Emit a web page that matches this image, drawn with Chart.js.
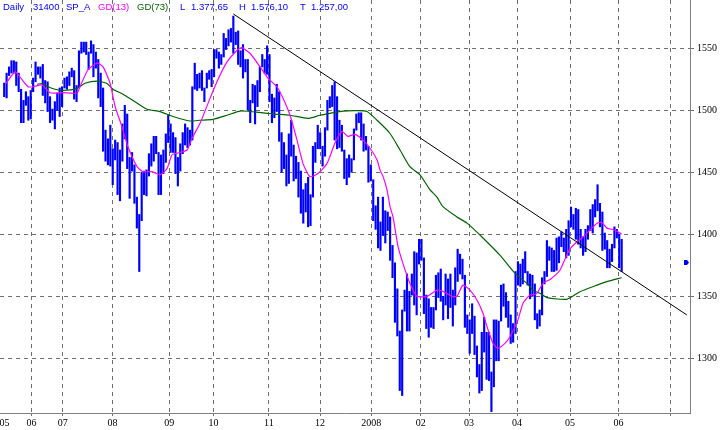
<!DOCTYPE html>
<html><head><meta charset="utf-8">
<script src="https://cdn.jsdelivr.net/npm/chart.js@4.4.1/dist/chart.umd.min.js"></script>
<style>html,body{margin:0;padding:0;background:#fff;overflow:hidden}#wrap{width:721px;height:430px;position:relative}</style>
</head><body><div id="wrap"><canvas id="c" width="721" height="430"></canvas></div>
<script>
// Daily S&P 500 bars, trading day index 0 = 29 May 2007 ... 256 = 3 Jun 2008
const dayLows = [
1511,1510,1528,1530,1530,1520,1515,1490,1490,1504,1492,1493,1515,1523,1529,1526,1512,1506,1499,1490,
1492,1485,1500,1495,1503,1518,1517,1520,1527,1509,1507,1518,1546,1547,1545,1533,1546,1527,1534,1510,
1503,1467,1459,1456,1455,1440,1460,1432,1427,1459,1477,1453,1429,1451,1425,1405,1370,1411,1432,1431,
1447,1455,1459,1465,1432,1432,1449,1458,1474,1466,1466,1449,1439,1451,1465,1472,1470,1472,1476,1517,
1516,1518,1516,1507,1518,1525,1519,1527,1542,1534,1537,1543,1549,1552,1555,1546,1553,1537,1535,1526,
1531,1500,1490,1506,1489,1503,1515,1535,1530,1529,1507,1490,1494,1499,1475,1450,1453,1439,1441,1463,
1443,1445,1430,1417,1409,1418,1406,1407,1430,1458,1469,1469,1455,1463,1484,1502,1503,1476,1469,1470,
1467,1445,1440,1446,1450,1460,1484,1490,1476,1467,1468,1442,1443,1411,1404,1389,1387,1399,1393,1403,
1379,1365,1329,1318,1274,1270,1338,1322,1322,1351,1343,1335,1376,1379,1336,1324,1317,1325,1324,1339,
1349,1346,1331,1343,1332,1341,1326,1343,1362,1368,1364,1325,1320,1304,1320,1303,1285,1272,1274,1305,
1283,1282,1257,1277,1298,1298,1330,1342,1333,1325,1312,1313,1320,1359,1358,1360,1369,1359,1348,1350,
1331,1324,1326,1335,1360,1366,1379,1370,1370,1371,1377,1390,1386,1381,1383,1406,1404,1396,1392,1389,
1383,1386,1396,1403,1401,1414,1419,1406,1387,1388,1373,1373,1378,1389,1397,1373,1370
];
const dayHighs = [
1522,1530,1535,1540,1540,1539,1530,1517,1508,1515,1511,1516,1526,1539,1535,1535,1537,1524,1523,1511,
1501,1507,1514,1518,1519,1526,1527,1531,1534,1532,1520,1548,1555,1555,1555,1547,1556,1553,1547,1541,
1530,1518,1484,1477,1488,1469,1476,1474,1468,1489,1504,1497,1462,1466,1456,1430,1416,1450,1451,1452,
1465,1473,1479,1479,1466,1464,1468,1481,1496,1489,1482,1478,1462,1473,1482,1489,1486,1484,1519,1538,
1529,1530,1532,1518,1530,1532,1533,1549,1549,1547,1545,1562,1558,1565,1566,1576,1563,1564,1548,1553,
1541,1541,1508,1521,1520,1524,1535,1545,1541,1552,1545,1513,1510,1521,1515,1482,1474,1464,1481,1492,
1472,1463,1458,1451,1436,1441,1446,1432,1471,1474,1488,1482,1471,1486,1508,1511,1520,1523,1511,1492,
1488,1468,1461,1464,1461,1485,1497,1498,1498,1489,1479,1471,1456,1444,1423,1430,1410,1430,1419,1418,
1414,1391,1377,1356,1322,1339,1355,1368,1354,1368,1386,1385,1396,1396,1381,1351,1348,1341,1341,1367,
1369,1372,1350,1368,1364,1368,1355,1373,1388,1384,1380,1367,1335,1331,1344,1334,1310,1295,1321,1333,
1321,1321,1289,1331,1331,1330,1359,1360,1353,1346,1335,1328,1370,1378,1376,1380,1386,1370,1368,1367,
1360,1336,1339,1365,1370,1395,1390,1389,1387,1397,1398,1402,1397,1404,1411,1422,1416,1421,1420,1404,
1398,1404,1407,1420,1424,1428,1440,1425,1418,1401,1395,1388,1392,1406,1404,1400,1396
];
// GD(13) moving average
const ma13Days = [0.7,4.5,6.5,9.9,11.9,15.7,19,24.4,30.2,31.4,34.7,38.5,41,43.9,46,48.8,51.3,55.1,57.5,61.3,64.6,67.5,69.6,72.9,75.8,77.9,81.2,84.5,88.2,92.4,96.9,98.5,101.9,106.1,109.4,113.1,115.6,118.5,121.4,123.9,126.8,130.1,133.8,137.1,140,142.5,145.4,148.8,151.7,154.6,155.8,157.1,158.7,160,161.2,163.3,165.3,168.2,171.1,175.3,179.4,181.9,185.7,187.7,190.2,193.1,196,198.5,200.6,202.7,204.7,207.6,209.7,213,215.1,218,220.7,223.4,226.6,230.4,232.5,234.5,237.5,240.1,242.9,245.8,247.8,249.9,253,255.3,256];
const ma13Values = [1521.7,1531,1527,1519,1519,1520.4,1514.2,1514.2,1514,1519,1532.5,1538,1535,1521.8,1503,1487,1470.6,1454.5,1450.5,1450.5,1448,1453,1464,1466,1468,1477.4,1489.5,1505.6,1523,1539,1549,1550.5,1546,1535,1525.8,1519,1509.7,1496,1476,1457,1446.5,1449,1457,1473.4,1483,1479,1480.6,1476,1469.4,1460,1452,1446.5,1436,1422,1414,1390,1376.6,1360.5,1350,1350,1355,1354,1350,1350,1359,1355,1347,1336.3,1323,1312,1308,1312,1317.4,1331,1344.4,1351,1352,1360.5,1364,1371,1380,1388,1394,1398,1403.5,1409,1409.5,1405,1403.5,1401,1400];
// GD(73) moving average
const ma73Days = [13.6,15.7,18.2,21.1,24.4,30.2,33.5,38.5,42.6,45.1,49.3,53.4,59.2,64.6,70,77,81.2,86.6,92.4,97.8,107.3,112.3,118.5,125.9,130.9,135.1,140.5,146.3,150.4,154.6,159.9,164.1,168.2,172.4,176.5,179.4,181.9,187.7,191.9,198.5,205.6,211.8,216.7,219.2,222.1,225,233.3,238.7,245.8,249.9,256];
const ma73Values = [1521,1521.6,1519,1517,1516,1517.7,1521.8,1523.6,1521.6,1517,1513,1508,1500.8,1499,1495,1491.4,1492,1492.7,1496,1499.4,1498,1497,1496,1493.5,1496,1497.6,1499.4,1499.7,1499,1492,1481.5,1468,1454.5,1448,1436,1430,1422.3,1414,1409,1397,1383,1368.5,1360.5,1355,1352.4,1349,1347.6,1353.7,1359,1361.8,1365];
// Trendline from the October 2007 high
const trendDays = [95, 283];
const trendValues = [1577.7, 1335];
// Axis ticks
const monthTickDays = [0.1,11.28,24.25,44.9,68.45,86.8,109.74,130.97,152.2,172.68,192.74,212.65,234.6,254.68,276.1];
const monthTickLabels = ['05','06','07','08','09','10','11','12','2008','02','03','04','05','06',''];
const priceTicks = [1300,1350,1400,1450,1500,1550];
const lastClose = 1377.65;
const headerTexts = ['Daily','31400','SP_A','GD(13)','GD(73)','L','1.377,65','H','1.576,10','T','1.257,00'];

const barData = dayLows.map((lo, i) => ({x: i, y: [lo, dayHighs[i]]}));
const pts = (xs, ys) => xs.map((x, i) => ({x: x, y: ys[i]}));

const GRID = '#6e6e6e';
const overlay = {
  id: 'overlay',
  afterDraw(chart) {
    const ctx = chart.ctx;
    ctx.save();
    ctx.font = '9.5px "Liberation Sans", Arial, sans-serif';
    ctx.textBaseline = 'alphabetic';
    const xs = [3, 33, 66, 98, 137, 180, 191, 239, 251, 300, 311];
    const cols = ['#0000ff','#0000ff','#0000ff','#ff00ff','#006400','#0000ff','#0000ff','#0000ff','#0000ff','#0000ff','#0000ff'];
    headerTexts.forEach((t, i) => { ctx.fillStyle = cols[i]; ctx.fillText(t, xs[i], 10); });
    const y = Math.round(chart.scales.y.getPixelForValue(lastClose));
    const r = chart.chartArea.right;
    ctx.fillStyle = '#0000ff';
    ctx.beginPath();
    ctx.moveTo(r - 6, y - 2); ctx.lineTo(r - 3, y - 2); ctx.lineTo(r - 1, y + 0.5);
    ctx.lineTo(r - 3, y + 3); ctx.lineTo(r - 6, y + 3); ctx.closePath(); ctx.fill();
    ctx.restore();
  }
};

new Chart(document.getElementById('c'), {
  type: 'bar',
  data: {
    datasets: [
      {type: 'line', data: pts(trendDays, trendValues), borderColor: '#000000', borderWidth: 1, pointRadius: 0, tension: 0, order: 1},
      {type: 'line', data: pts(ma13Days, ma13Values), borderColor: '#ff00ff', borderWidth: 1.2, pointRadius: 0, tension: 0.2, order: 2},
      {type: 'line', data: pts(ma73Days, ma73Values), borderColor: '#006400', borderWidth: 1.2, pointRadius: 0, tension: 0.2, order: 3},
      {type: 'bar', data: barData, backgroundColor: '#0000ff', borderWidth: 0, barThickness: 1.5, order: 4}
    ]
  },
  options: {
    responsive: false,
    animation: false,
    events: [],
    layout: {padding: 0},
    plugins: {legend: {display: false}, tooltip: {enabled: false}},
    scales: {
      x: {
        type: 'linear', position: 'bottom', offset: false,
        min: -1.741, max: 284.33,
        afterBuildTicks: s => { s.ticks = monthTickDays.map(v => ({value: v})); },
        afterFit: s => { s.height = 17; s.paddingLeft = 0; s.paddingRight = 0; },
        grid: {offset: false, color: c => (c.tick && c.tick.value === monthTickDays[0]) ? 'rgba(0,0,0,0)' : GRID, lineWidth: 1, tickLength: 3, drawTicks: true},
        border: {display: true, color: '#808080', width: 1, dash: [4, 4]},
        ticks: {autoSkip: false, maxRotation: 0, padding: 1, color: '#000', font: {family: 'Liberation Serif', size: 10},
          callback: (v, i) => monthTickLabels[i]}
      },
      y: {
        type: 'linear', position: 'right',
        min: 1255.9, max: 1588.96,
        afterBuildTicks: s => { s.ticks = priceTicks.map(v => ({value: v})); },
        afterFit: s => { s.width = 31; s.paddingTop = 0; s.paddingBottom = 0; },
        grid: {color: GRID, lineWidth: 1, tickLength: 4},
        border: {display: true, color: '#808080', width: 1, dash: [4, 4]},
        ticks: {padding: 3, color: '#000', font: {family: 'Liberation Serif', size: 10}, callback: v => String(v)}
      }
    }
  },
  plugins: [overlay]
});
</script>
</body></html>
